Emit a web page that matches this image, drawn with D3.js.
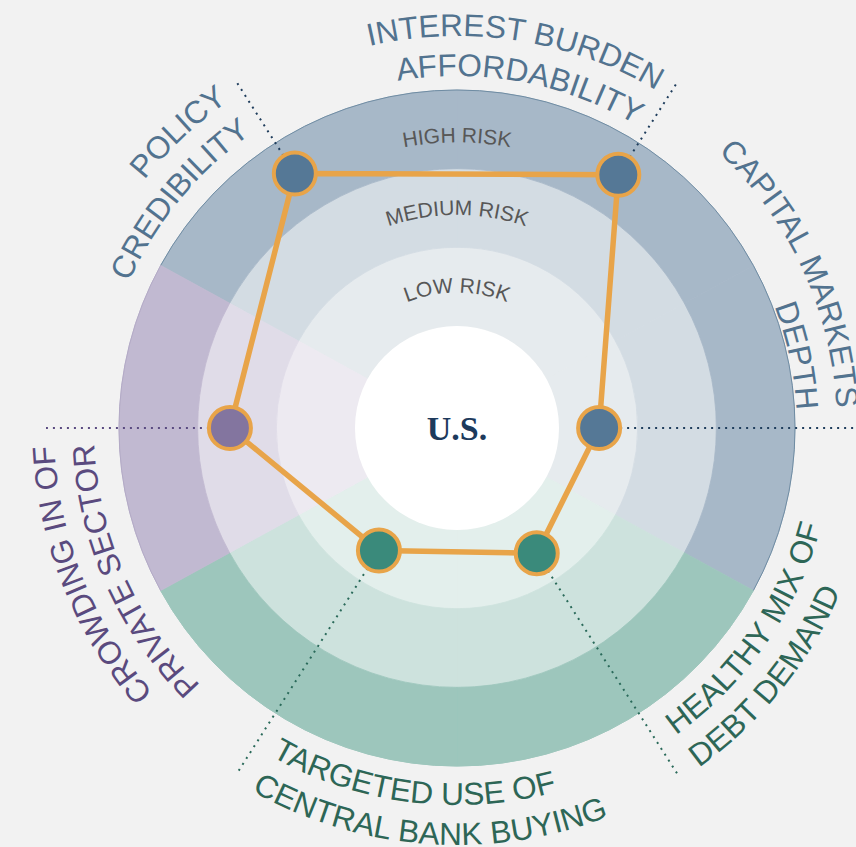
<!DOCTYPE html>
<html>
<head>
<meta charset="utf-8">
<title>U.S. debt sustainability</title>
<style>
  body { margin: 0; background: #f2f2f2; }
  svg { display: block; }
  .axis-label { font-family: "Liberation Sans", Arial, sans-serif; font-size: 31.5px; }
  .band-label { font-family: "Liberation Sans", Arial, sans-serif; font-size: 21px; fill: #575757; }
</style>
</head>
<body>
<div id="chart"></div>
<script src="https://cdn.jsdelivr.net/npm/d3@7"></script>
<script>
// data
var categories = ["Policy credibility", "Interest burden affordability", "Capital markets depth",
                  "Healthy mix of debt demand", "Targeted use of central bank buying", "Crowding in of private sector"];
var labelLines = [["POLICY", "CREDIBILITY"], ["INTEREST BURDEN", "AFFORDABILITY"], ["CAPITAL MARKETS", "DEPTH"],
                  ["HEALTHY MIX OF", "DEBT DEMAND"], ["TARGETED USE OF", "CENTRAL BANK BUYING"], ["CROWDING IN OF", "PRIVATE SECTOR"]];
var groups = ["market", "market", "market", "demand", "demand", "private"];
var riskScores = [3.04, 3.02, 1.01, 1.09, 1.05, 2.09];   // 1 = low, 2 = medium, 3 = high
var riskLevels = ["LOW RISK", "MEDIUM RISK", "HIGH RISK"];
var country = "U.S.";

// layout
var w = 856, h = 847, cx = 457, cy = 428;
var axisAngle = [-32.5, 32.5, 90, 147.5, 212.5, 270];   // degrees, clockwise from 12 o'clock
var labelShift = [4, -3, -15, 0, 0, 8];
var labelGap = [2.5, 2, 3, 3, 3, 2.5];
var bandLabelShift = [1, 0, -6];
var leaderR = 411;

var palette = {
  market:  { bands: ["#e6ebee", "#d3dce3", "#a7b8c8"], dot: "#557896", text: "#52738f", lead: "#1f3d5c", edge: "#6f8ca3" },
  demand:  { bands: ["#e3efec", "#cde2dd", "#9dc6bc"], dot: "#3a8a7b", text: "#2d6656", lead: "#2a6a5a", edge: "#9dc6bc" },
  private: { bands: ["#edeaf1", "#e0dce8", "#c1b9d1"], dot: "#83759f", text: "#5a4a7e", lead: "#5a4a80", edge: "#b3aac6" }
};
var orange = "#e8a449";

var rad = function(d) { return d * Math.PI / 180; };
var r = d3.scaleLinear().domain([0.5, 3.5]).range([102, 338]);

var svg = d3.select("#chart").append("svg")
  .attr("width", w).attr("height", h)
  .style("background", "#f2f2f2");

var defs = svg.append("defs");
var g = svg.append("g").attr("transform", "translate(" + cx + "," + cy + ")");

// wedges: each axis owns the slice between its neighbours' midpoints
var wedges = axisAngle.map(function(a, i) {
  var prev = axisAngle[(i + 5) % 6], next = axisAngle[(i + 1) % 6];
  if (prev > a) prev -= 360;
  if (next < a) next += 360;
  return { start: (prev + a) / 2, end: (a + next) / 2, group: groups[i] };
});

var arc = d3.arc();
riskLevels.forEach(function(level, k) {
  g.selectAll(".band" + k)
    .data(wedges)
    .enter()
    .append("path")
    .attr("d", function(d) {
      return arc({ innerRadius: r(k + 0.5), outerRadius: r(k + 1.5), startAngle: rad(d.start), endAngle: rad(d.end) });
    })
    .attr("fill", function(d) { return palette[d.group].bands[k]; })
    .attr("stroke", function(d) { return palette[d.group].bands[k]; })
    .attr("stroke-width", 0.8);
});

// thin outer edge
g.selectAll(".edge")
  .data(wedges)
  .enter()
  .append("path")
  .attr("d", function(d) {
    var p = d3.path();
    p.arc(0, 0, r(3.5), rad(d.start - 90), rad(d.end - 90));
    return p.toString();
  })
  .attr("fill", "none")
  .attr("stroke", function(d) { return palette[d.group].edge; })
  .attr("stroke-width", 1);

g.append("circle").attr("r", r(0.5)).attr("fill", "#ffffff");

// band labels
riskLevels.forEach(function(level, k) {
  var rr = r(k + 1) + bandLabelShift[k] - 7;
  var p = d3.path();
  p.arc(0, 0, rr, rad(-180), rad(0));
  defs.append("path").attr("id", "band" + k).attr("d", p.toString()).attr("transform", "translate(" + cx + "," + cy + ")");
  svg.append("text").attr("class", "band-label")
    .append("textPath")
    .attr("href", "#band" + k)
    .attr("startOffset", "50%")
    .attr("text-anchor", "middle")
    .text(level);
});

// leader lines
g.selectAll(".leader")
  .data(riskScores)
  .enter()
  .append("line")
  .attr("x1", function(d, i) { return d3.pointRadial(rad(axisAngle[i]), r(d))[0]; })
  .attr("y1", function(d, i) { return d3.pointRadial(rad(axisAngle[i]), r(d))[1]; })
  .attr("x2", function(d, i) { return d3.pointRadial(rad(axisAngle[i]), leaderR)[0]; })
  .attr("y2", function(d, i) { return d3.pointRadial(rad(axisAngle[i]), leaderR)[1]; })
  .attr("stroke", function(d, i) { return palette[groups[i]].lead; })
  .attr("stroke-width", 2)
  .attr("stroke-dasharray", "2,5");

// outline
var radial = d3.lineRadial()
  .angle(function(d, i) { return rad(axisAngle[i]); })
  .radius(function(d) { return r(d); })
  .curve(d3.curveLinearClosed);

g.append("path")
  .attr("d", radial(riskScores))
  .attr("fill", "none")
  .attr("stroke", orange)
  .attr("stroke-width", 5.5)
  .attr("stroke-linejoin", "round");

g.selectAll(".dot")
  .data(riskScores)
  .enter()
  .append("circle")
  .attr("cx", function(d, i) { return d3.pointRadial(rad(axisAngle[i]), r(d))[0]; })
  .attr("cy", function(d, i) { return d3.pointRadial(rad(axisAngle[i]), r(d))[1]; })
  .attr("r", 21)
  .attr("fill", function(d, i) { return palette[groups[i]].dot; })
  .attr("stroke", orange)
  .attr("stroke-width", 4);

// curved axis labels, set just counter-clockwise of each axis
labelLines.forEach(function(lines, i) {
  var anchor = axisAngle[i] - labelGap[i];
  var a = ((axisAngle[i] % 360) + 360) % 360;
  var flipped = a > 100 && a < 260;
  lines.forEach(function(line, j) {
    var id = "lab" + i + "_" + j;
    var p = d3.path();
    var rr;
    if (flipped) {
      rr = (j === 0 ? 366 : 406) + labelShift[i] + 11;
      p.arc(0, 0, rr, rad(anchor - 90), rad(anchor - 90 - 179), true);
    } else {
      rr = (j === 0 ? 406 : 366) + labelShift[i] - 11;
      p.arc(0, 0, rr, rad(anchor - 90 - 179), rad(anchor - 90));
    }
    defs.append("path").attr("id", id).attr("d", p.toString()).attr("transform", "translate(" + cx + "," + cy + ")");
    svg.append("text").attr("class", "axis-label")
      .attr("fill", palette[groups[i]].text)
      .append("textPath")
      .attr("href", "#" + id)
      .attr("startOffset", flipped ? "0%" : "100%")
      .attr("text-anchor", flipped ? "start" : "end")
      .text(line);
  });
});

// centre
g.append("text")
  .attr("y", 12)
  .attr("text-anchor", "middle")
  .attr("font-family", "'Liberation Serif', 'Times New Roman', serif")
  .attr("font-weight", "bold")
  .attr("font-size", 34)
  .attr("fill", "#1d3a5c")
  .text(country);
</script>
</body>
</html>
